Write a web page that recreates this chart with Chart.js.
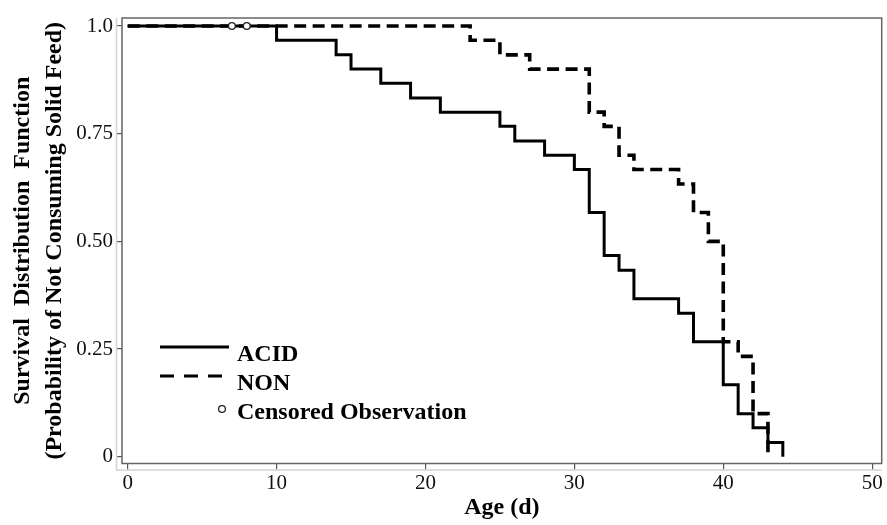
<!DOCTYPE html>
<html>
<head>
<meta charset="utf-8">
<script src="https://cdn.jsdelivr.net/npm/chart.js@4.4.1/dist/chart.umd.min.js"></script>
<style>
  html, body { margin: 0; padding: 0; background: #fff; }
  #wrap { width: 887px; height: 525px; }
</style>
</head>
<body>
<div id="wrap"><canvas id="km" width="887" height="525"></canvas></div>
<script>
// Kaplan-Meier estimates (age in days, survival probability)
const acidAge  = [0, 10, 14, 15, 17, 19, 21, 25, 26, 28, 30, 31, 32, 33, 34, 37, 38, 40, 41, 42, 43, 44];
const acidSurv = [1, 0.967, 0.933, 0.9, 0.867, 0.833, 0.8, 0.767, 0.733, 0.7, 0.667, 0.567, 0.467, 0.433, 0.367, 0.333, 0.267, 0.167, 0.1, 0.067, 0.033, 0];

const nonAge  = [0, 23, 25, 27, 31, 32, 33, 34, 37, 38, 39, 40, 41, 42, 43];
const nonSurv = [1, 0.967, 0.933, 0.9, 0.8, 0.767, 0.7, 0.667, 0.633, 0.567, 0.5, 0.267, 0.233, 0.1, 0];

// censored observations
const censorAge  = [7, 8];
const censorSurv = [1, 1];

const xTicks = [0, 10, 20, 30, 40, 50];
const yTicks = [0, 0.25, 0.5, 0.75, 1];
const yTickLabels = ['0', '0.25', '0.50', '0.75', '1.0'];

const serif = "'Liberation Serif', 'Times New Roman', serif";

function toPoints(xs, ys) {
    return xs.map((x, i) => ({ x: x, y: ys[i] }));
}

// panel frame + light offset axis lines (SAS style)
const framePlugin = {
    id: 'frame',
    afterDraw(chart) {
        const { ctx, chartArea: a } = chart;
        ctx.save();
        ctx.strokeStyle = '#d4d4d4';
        ctx.lineWidth = 1.5;
        ctx.beginPath();
        ctx.moveTo(116.5, a.top);
        ctx.lineTo(116.5, a.bottom + 6.5);
        ctx.lineTo(a.right, a.bottom + 6.5);
        ctx.stroke();
        ctx.strokeStyle = '#666';
        ctx.lineWidth = 1.5;
        ctx.strokeRect(a.left, a.top, a.right - a.left, a.bottom - a.top);
        ctx.restore();
    }
};

// legend drawn inside the plot area
const insideLegend = {
    id: 'insideLegend',
    afterDraw(chart) {
        const ctx = chart.ctx;
        const ds = chart.data.datasets;
        ctx.save();
        ctx.font = "bold 24px " + serif;
        ctx.fillStyle = '#000';
        ctx.textBaseline = 'alphabetic';

        const rows = [
            { d: ds[1], y: 347, base: 361 },
            { d: ds[2], y: 376, base: 390 },
            { d: ds[0], y: 409, base: 419 }
        ];
        rows.forEach(r => {
            if (r.d.showLine === false) {
                ctx.beginPath();
                ctx.lineWidth = 1.3;
                ctx.strokeStyle = '#222';
                ctx.arc(222, r.y, 3.4, 0, Math.PI * 2);
                ctx.stroke();
            } else {
                ctx.beginPath();
                ctx.lineWidth = 3;
                ctx.strokeStyle = r.d.borderColor;
                ctx.setLineDash(r.d.borderDash ? [14, 10] : []);
                ctx.moveTo(160, r.y);
                ctx.lineTo(229, r.y);
                ctx.stroke();
                ctx.setLineDash([]);
            }
            ctx.fillText(r.d.label, 237, r.base);
        });
        ctx.restore();
    }
};

new Chart(document.getElementById('km'), {
    type: 'line',
    data: {
        datasets: [
            {
                label: 'Censored Observation',
                data: toPoints(censorAge, censorSurv),
                showLine: false,
                pointStyle: 'circle',
                pointRadius: 3.4,
                pointBorderWidth: 1.3,
                pointBorderColor: '#222',
                pointBackgroundColor: '#fff',
                order: 0
            },
            {
                label: 'ACID',
                data: toPoints(acidAge, acidSurv),
                stepped: 'before',
                borderColor: '#000',
                borderWidth: 3,
                pointRadius: 0,
                fill: false,
                order: 2
            },
            {
                label: 'NON',
                data: toPoints(nonAge, nonSurv),
                stepped: 'before',
                borderColor: '#000',
                borderWidth: 3.6,
                borderDash: [12, 6.5],
                pointRadius: 0,
                fill: false,
                order: 1
            }
        ]
    },
    options: {
        responsive: false,
        animation: false,
        devicePixelRatio: 1,
        layout: { padding: { top: 18, right: 4, left: 0, bottom: 0 } },
        plugins: {
            legend: { display: false },
            tooltip: { enabled: false }
        },
        scales: {
            x: {
                type: 'linear',
                min: -0.38,
                max: 50.64,
                afterBuildTicks: axis => { axis.ticks = xTicks.map(v => ({ value: v })); },
                afterFit: axis => { axis.height = 61.5; },
                grid: { drawOnChartArea: false, drawTicks: true, tickLength: 6, tickColor: '#555', lineWidth: 1.2 },
                border: { display: false },
                ticks: {
                    padding: 1,
                    maxRotation: 0,
                    color: '#111',
                    font: { family: serif, size: 21 }
                },
                title: {
                    display: true,
                    text: 'Age (d)',
                    color: '#000',
                    font: { family: serif, size: 24, weight: 'bold' },
                    padding: { top: 0, bottom: 3 }
                }
            },
            y: {
                type: 'linear',
                min: -0.0158,
                max: 1.0186,
                afterBuildTicks: axis => { axis.ticks = yTicks.map(v => ({ value: v })); },
                afterFit: axis => { axis.width = 122; },
                grid: { drawOnChartArea: false, drawTicks: true, tickLength: 5, tickColor: '#555', lineWidth: 1.2 },
                border: { display: false },
                ticks: {
                    padding: 4,
                    color: '#111',
                    font: { family: serif, size: 21 },
                    callback: (v) => yTickLabels[yTicks.indexOf(v)]
                },
                title: {
                    display: true,
                    text: ['Survival  Distribution  Function', '(Probability of Not Consuming Solid Feed)'],
                    color: '#000',
                    font: { family: serif, size: 24, weight: 'bold', lineHeight: 1.3 },
                    padding: { top: 7.5, bottom: 0 }
                }
            }
        }
    },
    plugins: [framePlugin, insideLegend]
});
</script>
</body>
</html>
